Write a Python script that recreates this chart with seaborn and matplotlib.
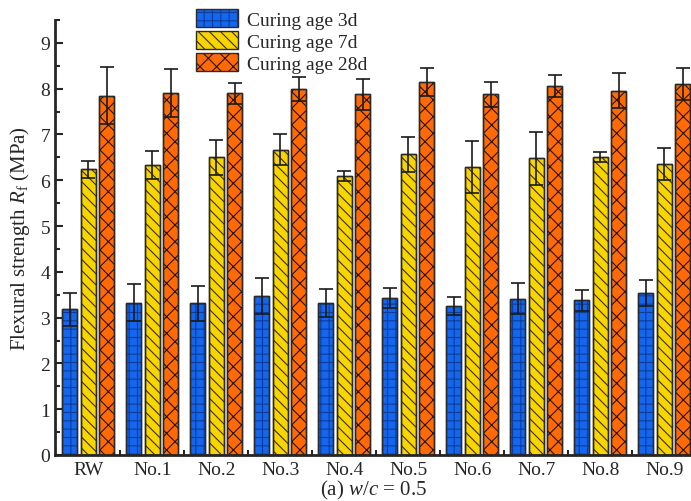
import numpy as np
import pandas as pd
import matplotlib
matplotlib.use("Agg")
import matplotlib.pyplot as plt
import seaborn as sns
from matplotlib.ticker import MultipleLocator, FixedLocator
from matplotlib.patches import Patch, Rectangle
from matplotlib.legend_handler import HandlerTuple

groups = ["RW", "No.1", "No.2", "No.3", "No.4", "No.5", "No.6", "No.7", "No.8", "No.9"]
ages = ["Curing age 3d", "Curing age 7d", "Curing age 28d"]
mean_3d = [3.18, 3.33, 3.31, 3.48, 3.32, 3.42, 3.25, 3.41, 3.38, 3.54]
err_3d = [0.36, 0.41, 0.39, 0.39, 0.30, 0.22, 0.20, 0.34, 0.23, 0.29]
mean_7d = [6.24, 6.33, 6.50, 6.67, 6.10, 6.57, 6.29, 6.48, 6.51, 6.36]
err_7d = [0.18, 0.30, 0.39, 0.34, 0.11, 0.38, 0.56, 0.58, 0.11, 0.35]
mean_28d = [7.85, 7.90, 7.90, 7.99, 7.88, 8.14, 7.88, 8.05, 7.96, 8.10]
err_28d = [0.63, 0.52, 0.23, 0.26, 0.34, 0.31, 0.27, 0.24, 0.39, 0.35]

colors = ["#1466ec", "#f8d400", "#ff6a06"]
hatches = ["++", "\\\\\\", "xx"]
hatch_colors = ["#0b3c9c", "#3a3000", "#2a1200"]

sns.set_style("ticks")
plt.rcParams["font.family"] = ["Liberation Serif", "DejaVu Serif"]
plt.rcParams["mathtext.fontset"] = "custom"
plt.rcParams["mathtext.rm"] = "Liberation Serif"
plt.rcParams["mathtext.it"] = "Liberation Serif:italic"
plt.rcParams["hatch.linewidth"] = 0.8

rows = []
for i, g in enumerate(groups):
    rows.append((g, ages[0], mean_3d[i]))
    rows.append((g, ages[1], mean_7d[i]))
    rows.append((g, ages[2], mean_28d[i]))
df = pd.DataFrame(rows, columns=["group", "age", "value"])

fig = plt.figure(figsize=(6.91, 5.02), dpi=100)
ax = fig.add_axes([55 / 691, 46 / 502, 636 / 691, 435 / 502])

sns.barplot(data=df, x="group", y="value", hue="age", order=groups, hue_order=ages,
            palette=colors, saturation=1, width=0.87, gap=0.2, errorbar=None,
            edgecolor="#2a2a2a", linewidth=1.0, ax=ax, legend=False)

means = [mean_3d, mean_7d, mean_28d]
errs = [err_3d, err_7d, err_28d]
bar_conts = list(ax.containers)
for k, cont in enumerate(bar_conts):
    xs = []
    for p in cont.patches:
        ov = Rectangle((p.get_x(), p.get_y()), p.get_width(), p.get_height(),
                       facecolor="none", edgecolor=hatch_colors[k], linewidth=0,
                       hatch=hatches[k], zorder=p.get_zorder() + 0.1)
        ax.add_patch(ov)
        ol = Rectangle((p.get_x(), p.get_y()), p.get_width(), p.get_height(),
                       facecolor="none", edgecolor="#2a2a2a", linewidth=1.0,
                       zorder=p.get_zorder() + 0.2)
        ax.add_patch(ol)
        xs.append(p.get_x() + p.get_width() / 2)
    ax.errorbar(xs, means[k], yerr=errs[k], fmt="none", ecolor="#1a1a1a",
                elinewidth=1.2, capsize=5, capthick=1.2, zorder=5)

ax.set_xlim(-0.52, 9.42)
ax.set_ylim(0, 9.5)
ax.set_yticks(range(0, 10))
ax.yaxis.set_minor_locator(MultipleLocator(0.5))
ax.xaxis.set_minor_locator(FixedLocator(np.arange(0.5, 9.5, 1.0)))
ax.tick_params(axis="both", which="major", direction="in", length=6, width=1.5, labelsize=14)
ax.tick_params(axis="both", which="minor", direction="in", length=3.5, width=1.5)
ax.tick_params(axis="x", pad=4)
for s in ["top", "right"]:
    ax.spines[s].set_visible(False)
for s in ["left", "bottom"]:
    ax.spines[s].set_linewidth(2.0)

ax.set_ylabel(r"Flexural strength $R_{\mathrm{f}}$ (MPa)", fontsize=15, labelpad=6)
ax.set_xlabel(r"(a) $w/c$ = 0.5", fontsize=15, labelpad=0)

handles = []
for k in range(3):
    handles.append((Patch(facecolor=colors[k], edgecolor=hatch_colors[k], linewidth=0,
                          hatch=hatches[k]),
                    Patch(facecolor="none", edgecolor="#2a2a2a", linewidth=1.0)))
fig.legend(handles, ages, loc="upper left", bbox_to_anchor=(188 / 691, 1 - 2 / 502),
           frameon=False, fontsize=14, handlelength=2.15, handleheight=1.1,
           labelspacing=0.1, handletextpad=0.5, borderaxespad=0.0,
           handler_map={tuple: HandlerTuple(ndivide=1, pad=0)})

fig.savefig("out.png", dpi=100)
